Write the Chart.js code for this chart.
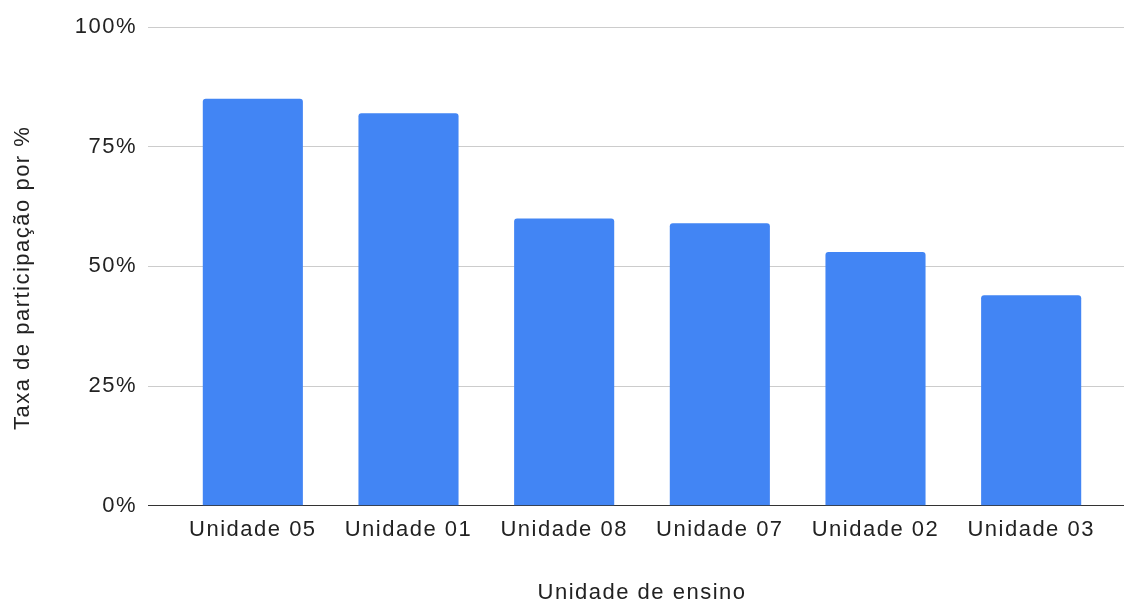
<!DOCTYPE html>
<html lang="pt-BR">
<head>
<meta charset="utf-8">
<title>Taxa de participação por unidade de ensino</title>
<script src="https://cdn.jsdelivr.net/npm/chart.js@4"></script>
<style>
  html, body { margin: 0; padding: 0; background: #fff; }
  #box { width: 1124px; height: 603px; position: relative; }
</style>
</head>
<body>
<div id="box"><canvas id="chartParticipacao"></canvas></div>
<script>
// Dados do gráfico
const unidades = ['Unidade 05', 'Unidade 01', 'Unidade 08', 'Unidade 07', 'Unidade 02', 'Unidade 03'];
const taxas = [85, 82, 60, 59, 53, 44];
const ticksY = [0, 25, 50, 75, 100];

const tituloY = 'Taxa de participação por %\u00A0\u00A0\u00A0';
const tituloX = 'Unidade de ensino';

const fonte = "'Liberation Sans', Arial, sans-serif";
const corTexto = '#222222';
const corGrade = '#cccccc';
const corBase = '#333333';

// espaçamento entre letras, como no original
const espacoLetras = {
  id: 'espacoLetras',
  beforeUpdate(chart) { chart.ctx.letterSpacing = '1.5px'; },
  beforeDraw(chart) { chart.ctx.letterSpacing = '1.5px'; }
};

document.addEventListener('DOMContentLoaded', () => {
  criarGrafico();
});

function criarGrafico() {
  const ctx = document.getElementById('chartParticipacao').getContext('2d');

  new Chart(ctx, {
    type: 'bar',
    data: {
      labels: unidades,
      datasets: [{
        label: 'Taxa de participação',
        data: taxas,
        backgroundColor: '#4285f4',
        borderWidth: 0,
        borderRadius: { topLeft: 3, topRight: 3 },
        borderSkipped: 'bottom',
        categoryPercentage: 1,
        barPercentage: 0.643
      }]
    },
    plugins: [espacoLetras],
    options: {
      responsive: true,
      maintainAspectRatio: false,
      animation: false,
      layout: {
        padding: { top: 27, right: 0, bottom: 0, left: 0 }
      },
      plugins: {
        legend: { display: false },
        tooltip: { enabled: false }
      },
      scales: {
        x: {
          grid: { display: false, drawTicks: false },
          border: { display: false },
          ticks: {
            color: corTexto,
            font: { family: fonte, size: 22 },
            padding: 11,
            maxRotation: 0,
            autoSkip: false
          },
          title: {
            display: true,
            text: tituloX,
            color: corTexto,
            font: { family: fonte, size: 22, lineHeight: 0.9 },
            padding: { top: 29, bottom: 0 }
          }
        },
        y: {
          min: 0,
          max: 100,
          afterBuildTicks: (scale) => {
            scale.ticks = ticksY.map(v => ({ value: v }));
          },
          afterFit: (scale) => {
            scale.width = 175;
          },
          grid: {
            color: (c) => c.tick && c.tick.value === 0 ? corBase : corGrade,
            lineWidth: 1,
            drawTicks: true,
            tickLength: 27,
            tickColor: (c) => c.tick && c.tick.value === 0 ? corBase : corGrade
          },
          border: { display: false },
          ticks: {
            color: corTexto,
            font: { family: fonte, size: 22 },
            padding: 11,
            callback: (v) => v + '%'
          },
          title: {
            display: true,
            text: tituloY,
            color: corTexto,
            font: { family: fonte, size: 22 },
            padding: { top: 10, bottom: 0 }
          }
        },
        y2: {
          position: 'right',
          min: 0,
          max: 100,
          afterBuildTicks: (scale) => {
            scale.ticks = ticksY.map(v => ({ value: v }));
          },
          afterFit: (scale) => {
            scale.width = 15;
          },
          grid: {
            drawOnChartArea: false,
            drawTicks: true,
            tickLength: 15,
            tickColor: (c) => c.tick && c.tick.value === 0 ? corBase : corGrade
          },
          border: { display: false },
          ticks: { display: false }
        }
      }
    }
  });
}
</script>
</body>
</html>
